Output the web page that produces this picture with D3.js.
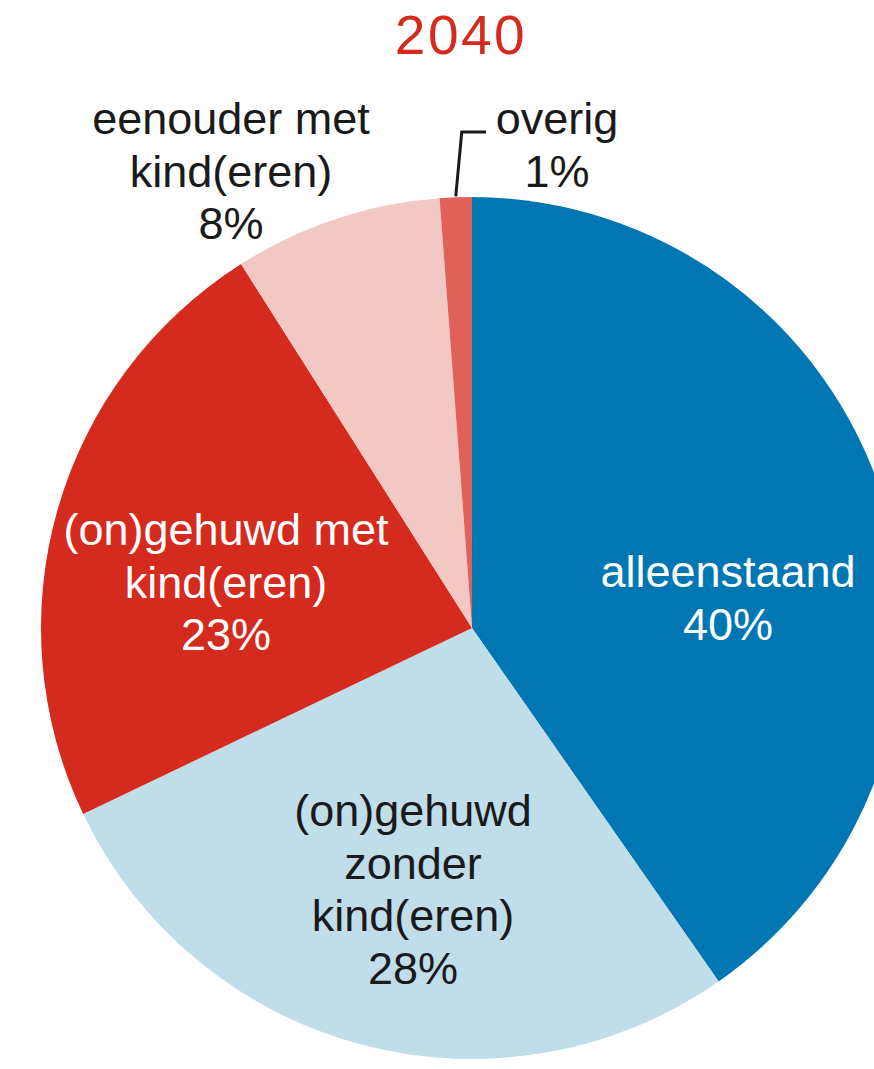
<!DOCTYPE html>
<html lang="nl">
<head>
    <meta charset="UTF-8">
    <title>2040</title>
    <style>
        body { margin: 0; background: #fff; }
        text { font-family: "Liberation Sans", Arial, sans-serif; }
    </style>
</head>
<body>
    <script src="https://d3js.org/d3.v7.min.js"></script>
    <script>
        // data, clockwise from 12 o'clock
        const categories = ["alleenstaand", "(on)gehuwd zonder kind(eren)", "(on)gehuwd met kind(eren)", "eenouder met kind(eren)", "overig"];
        const values = [40.3, 27.6, 23.1, 7.8, 1.2];
        const valueLabels = ["40%", "28%", "23%", "8%", "1%"];
        const labelLines = [
            ["alleenstaand"],
            ["(on)gehuwd", "zonder", "kind(eren)"],
            ["(on)gehuwd met", "kind(eren)"],
            ["eenouder met", "kind(eren)"],
            ["overig"]
        ];
        const title = "2040";

        const colors = ["#0077B2", "#C0DDEA", "#D52B1E", "#F2C8C5", "#E0605A"];
        const textColors = ["#fff", "#1a1a1a", "#fff", "#1a1a1a", "#1a1a1a"];

        const width = 874, height = 1069;
        const cx = 472, cy = 628, radius = 431;
        const lineH = 52.5;

        // where the first baseline of each label sits (x is the text centre)
        const labelPos = [
            {x: 728, y: 587},
            {x: 413, y: 826},
            {x: 226, y: 545},
            {x: 231, y: 134},
            {x: 557, y: 134}
        ];

        const svg = d3.select("body").append("svg")
            .attr("width", width)
            .attr("height", height);

        svg.append("text")
            .attr("x", 461)
            .attr("y", 54)
            .attr("text-anchor", "middle")
            .attr("font-size", "55px")
            .attr("letter-spacing", "2.5px")
            .attr("fill", "#D52B1E")
            .text(title);

        const pie = d3.pie().sort(null).value(d => d);
        const arc = d3.arc().innerRadius(0).outerRadius(radius);
        const arcs = pie(values);

        const g = svg.append("g").attr("transform", `translate(${cx},${cy})`);

        g.selectAll("path")
            .data(arcs)
            .enter().append("path")
            .attr("d", arc)
            .attr("fill", (d, i) => colors[i]);

        // leader line for the small slice
        const last = arcs[arcs.length - 1];
        const mid = (last.startAngle + last.endAngle) / 2;
        const px = cx + radius * Math.sin(mid), py = cy - radius * Math.cos(mid);
        svg.append("path")
            .attr("d", `M${px},${py - 1}L${px + 6},132H486`)
            .attr("fill", "none")
            .attr("stroke", "#1a1a1a")
            .attr("stroke-width", 3);

        categories.forEach((c, i) => {
            const t = svg.append("text")
                .attr("text-anchor", "middle")
                .attr("font-size", "45px")
                .attr("fill", textColors[i]);
            const lines = labelLines[i].concat([valueLabels[i]]);
            lines.forEach((l, j) => {
                t.append("tspan")
                    .attr("x", labelPos[i].x)
                    .attr("y", labelPos[i].y + j * lineH)
                    .text(l);
            });
        });
    </script>
</body>
</html>
